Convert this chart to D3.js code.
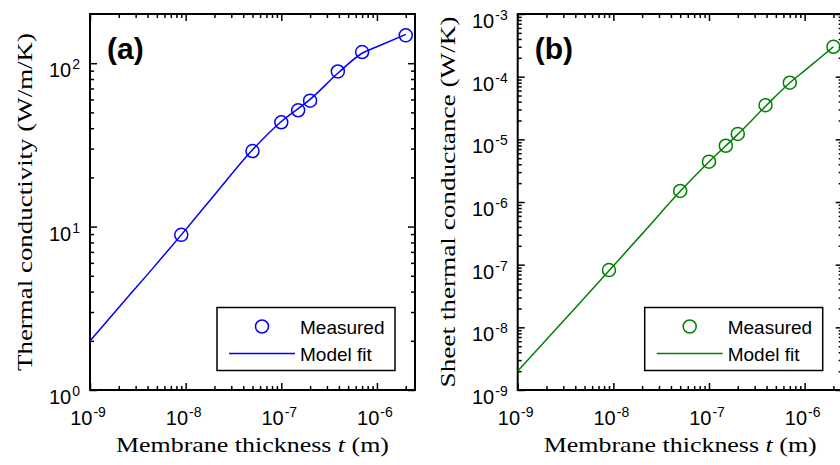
<!DOCTYPE html>
<html>
<head>
<meta charset="utf-8">
<script src="https://cdn.jsdelivr.net/npm/d3@7"></script>
<style>
  body { margin: 0; background: #fff; }
  svg { display: block; }
  .tick line { stroke: #000; stroke-width: 1.5; }
  .domain { display: none; }
  .lab { font-family: "Liberation Sans", Arial, sans-serif; font-size: 20px; fill: #000; }
  .lab .ex { font-size: 14px; }
</style>
</head>
<body>
<div id="chart"></div>
<script>
// thickness values (m)
const thickness = [9e-9, 5e-8, 1e-7, 1.5e-7, 2e-7, 3.9e-7, 7e-7, 2e-6];
// (a) thermal conductivity (W/m/K)
const conductivity = [8.9, 29, 43.5, 51.5, 59, 89, 117, 148];
// (b) sheet thermal conductance (W/K)
const conductance = [8.2e-8, 1.5e-6, 4.4e-6, 7.9e-6, 1.22e-5, 3.5e-5, 8.0e-5, 3.0e-4];

// model fit curves
const fitThickness = [1e-9, 2e-9, 4e-9, 9e-9, 2e-8, 5e-8, 1e-7, 2e-7, 4e-7, 7e-7, 1e-6, 2e-6];
const fitConductivity = [2.0, 3.2, 5.1, 8.9, 15.6, 29.5, 44, 60, 88, 115, 126, 150];
const fitConductance = [2e-9, 6.4e-9, 2.04e-8, 8e-8, 3.1e-7, 1.48e-6, 4.4e-6, 1.2e-5, 3.5e-5, 8e-5, 1.25e-4, 3.0e-4];

const xMajor = [1e-9, 1e-8, 1e-7, 1e-6];
const yMajorA = [1, 10, 100];
const yMajorB = [1e-9, 1e-8, 1e-7, 1e-6, 1e-5, 1e-4, 1e-3];

const W = 840, H = 465;
const svg = d3.select("#chart").append("svg").attr("width", W).attr("height", H);

function minors(lo, hi) {
    const out = [];
    for (let e = Math.floor(Math.log10(lo)); e <= Math.ceil(Math.log10(hi)); e++) {
        for (let m = 2; m <= 9; m++) {
            const v = m * Math.pow(10, e);
            if (v > lo && v < hi) out.push(v);
        }
    }
    return out;
}

// "10" with a raised exponent
function expLabel(sel) {
    sel.append("tspan").text("10");
    sel.append("tspan").attr("class", "ex").attr("dy", -8).attr("dx", 1).text(d => Math.round(Math.log10(d)));
}

function panel(cfg) {
    const { left, top, width, height, yDomain, yMajor, yVals, yFit, color, tag, yTitle, yTitleLen, yTitleX } = cfg;
    const g = svg.append("g").attr("transform", `translate(${left},${top})`);

    const x = d3.scaleLog().domain([1e-9, 2.5e-6]).range([0, width]);
    const y = d3.scaleLog().domain(yDomain).range([height, 0]);

    const xMin = minors(1e-9, 2.5e-6);
    const yMin = minors(yDomain[0], yDomain[1]);

    // minor ticks
    g.append("g").attr("transform", `translate(0,${height})`)
        .call(d3.axisBottom(x).tickValues(xMin).tickSize(-4).tickFormat(""));
    g.append("g").call(d3.axisTop(x).tickValues(xMin).tickSize(-4).tickFormat(""));
    g.append("g").call(d3.axisLeft(y).tickValues(yMin).tickSize(-4).tickFormat(""));
    g.append("g").attr("transform", `translate(${width},0)`)
        .call(d3.axisRight(y).tickValues(yMin).tickSize(-4).tickFormat(""));

    // major ticks
    g.append("g").attr("transform", `translate(0,${height})`)
        .call(d3.axisBottom(x).tickValues(xMajor).tickSize(-7).tickFormat(""));
    g.append("g").call(d3.axisTop(x).tickValues(xMajor).tickSize(-7).tickFormat(""));
    g.append("g").call(d3.axisLeft(y).tickValues(yMajor).tickSize(-7).tickFormat(""));
    g.append("g").attr("transform", `translate(${width},0)`)
        .call(d3.axisRight(y).tickValues(yMajor).tickSize(-7).tickFormat(""));

    // tick labels
    g.append("g").selectAll("text").data(xMajor).join("text")
        .attr("class", "lab")
        .attr("text-anchor", "middle")
        .attr("x", d => x(d) - 2).attr("y", height + 35)
        .call(expLabel);
    g.append("g").selectAll("text").data(yMajor).join("text")
        .attr("class", "lab")
        .attr("text-anchor", "end")
        .attr("x", -10).attr("y", d => y(d) + 14)
        .call(expLabel);

    // frame
    g.append("rect").attr("width", width).attr("height", height)
        .attr("fill", "none").attr("stroke", "#000").attr("stroke-width", 2);

    // fit line
    const line = d3.line().x(d => x(d[0])).y(d => y(d[1])).curve(d3.curveMonotoneX);
    g.append("path").datum(fitThickness.map((t, i) => [t, yFit[i]]))
        .attr("d", line).attr("fill", "none").attr("stroke", color).attr("stroke-width", 1.5);

    // measured points
    g.selectAll(".pt").data(thickness.map((t, i) => [t, yVals[i]])).join("circle")
        .attr("class", "pt")
        .attr("cx", d => x(d[0])).attr("cy", d => y(d[1])).attr("r", 6.5)
        .attr("fill", "none").attr("stroke", color).attr("stroke-width", 1.5);

    // panel tag
    g.append("text").attr("x", 17).attr("y", 45)
        .attr("font-family", "Liberation Sans, Arial, sans-serif").attr("font-weight", "bold")
        .attr("font-size", 30).text(tag);

    // legend
    const lg = g.append("g").attr("transform", `translate(127,${293.5})`);
    lg.append("rect").attr("width", 178).attr("height", 63)
        .attr("fill", "#fff").attr("stroke", "#000").attr("stroke-width", 1.5);
    lg.append("circle").attr("cx", 45).attr("cy", 19).attr("r", 6.5)
        .attr("fill", "none").attr("stroke", color).attr("stroke-width", 1.5);
    lg.append("line").attr("x1", 12).attr("x2", 78).attr("y1", 46).attr("y2", 46)
        .attr("stroke", color).attr("stroke-width", 1.5);
    lg.selectAll(".lt").data(["Measured", "Model fit"]).join("text")
        .attr("class", "lt")
        .attr("x", 83).attr("y", (d, i) => 26 + i * 27)
        .attr("font-family", "Liberation Sans, Arial, sans-serif").attr("font-size", 19).text(d => d);

    // axis titles
    const xt = g.append("text").attr("x", width / 2).attr("y", height + 62)
        .attr("text-anchor", "middle")
        .attr("font-family", "Liberation Serif, Times New Roman, serif").attr("font-size", 22)
        .attr("textLength", 273).attr("lengthAdjust", "spacingAndGlyphs");
    xt.append("tspan").text("Membrane thickness ");
    xt.append("tspan").attr("font-style", "italic").text("t");
    xt.append("tspan").text(" (m)");

    g.append("text")
        .attr("transform", `translate(${yTitleX},${height / 2}) rotate(-90)`)
        .attr("text-anchor", "middle")
        .attr("font-family", "Liberation Serif, Times New Roman, serif").attr("font-size", 22)
        .attr("textLength", yTitleLen).attr("lengthAdjust", "spacingAndGlyphs")
        .text(yTitle);
}

panel({
    left: 90, top: 14, width: 325, height: 376,
    yDomain: [1, 200], yMajor: yMajorA, yVals: conductivity, yFit: fitConductivity,
    color: "#0000ff", tag: "(a)",
    yTitle: "Thermal conductivity (W/m/K)", yTitleLen: 338, yTitleX: -58
});

panel({
    left: 517.7, top: 14, width: 325, height: 376,
    yDomain: [1e-9, 1e-3], yMajor: yMajorB, yVals: conductance, yFit: fitConductance,
    color: "#008000", tag: "(b)",
    yTitle: "Sheet thermal conductance (W/K)", yTitleLen: 371, yTitleX: -63
});
</script>
</body>
</html>
